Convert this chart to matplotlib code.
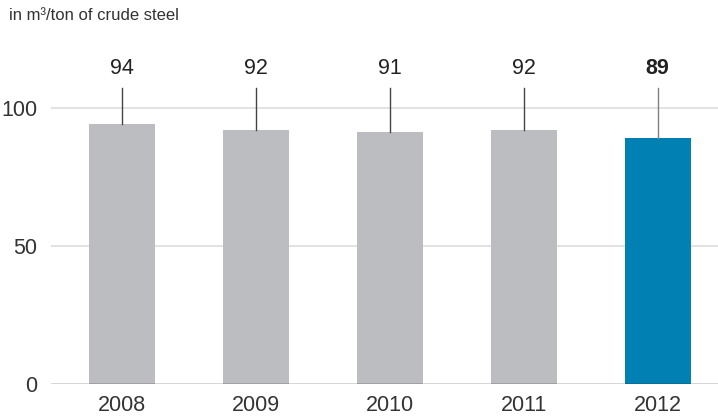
import matplotlib.pyplot as plt

years = ["2008", "2009", "2010", "2011", "2012"]
water = [94, 92, 91, 92, 89]
bar_colors = ["#bcbdc1", "#bcbdc1", "#bcbdc1", "#bcbdc1", "#0080b3"]
stem_colors = ["#444444", "#444444", "#444444", "#444444", "#808080"]

plt.rcParams['font.family'] = ['Liberation Sans', 'DejaVu Sans']

fig = plt.figure(figsize=(7.18, 4.17), dpi=100)
ax = fig.add_axes([51 / 718, 33 / 417, 667 / 718, 351 / 417])

x = range(len(years))
ax.bar(x, water, width=0.49, color=bar_colors, zorder=2)

# leader lines up to the value labels
stem_top = 107
label_y = 114
for i, v in enumerate(water):
    ax.plot([i, i], [v, stem_top], color=stem_colors[i], lw=1.0, zorder=3)
    ax.text(i, label_y, str(v), ha="center", va="center", fontsize=15.5,
            color="#222222", fontweight="bold" if i == len(water) - 1 else "normal")

ax.set_xlim(-0.53, 4.45)
ax.set_ylim(0, 127)
ax.set_yticks([0, 50, 100])
ax.set_yticklabels(["0", "50", "100"])
ax.set_xticks(list(x))
ax.set_xticklabels(years)

for y in [50, 100]:
    ax.axhline(y, color="#dddddd", lw=1.2, zorder=1)
ax.axhline(0, color="#333333", lw=1.0, zorder=4)

for s in ax.spines.values():
    s.set_visible(False)
ax.tick_params(length=0, labelsize=15.5, colors="#333333")
ax.tick_params(axis="y", pad=10)
ax.tick_params(axis="x", pad=8)

fig.text(9 / 718, 1 - 15 / 417, "in m³/ton of crude steel", fontsize=12,
         color="#333333", ha="left", va="center")

fig.savefig("out.png", dpi=100)
